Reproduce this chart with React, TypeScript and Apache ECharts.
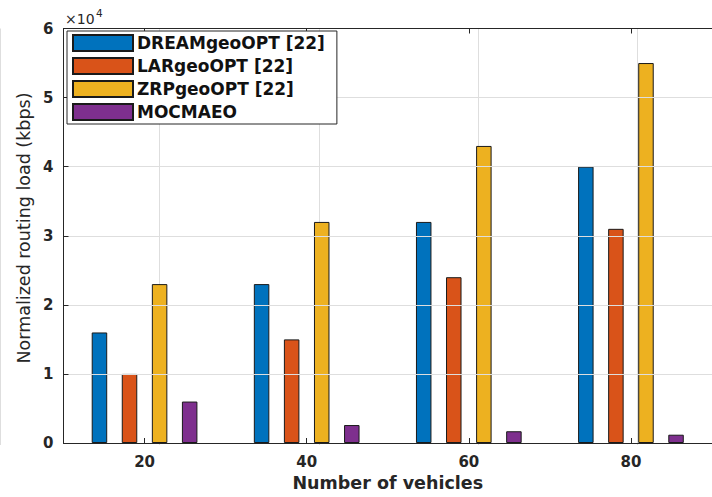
import React, { useEffect, useRef } from "react";
import * as echarts from "echarts";

// Number of vehicles (x categories)
const vehicleCounts = ["20", "40", "60", "80"];

// Normalized routing load (kbps) per protocol
const dreamGeoOpt = [16000, 23000, 32000, 40000];
const larGeoOpt = [10000, 15000, 24000, 31000];
const zrpGeoOpt = [23000, 32000, 43000, 55000];
const mocmaeo = [6000, 2600, 1700, 1200];

const seriesNames = ["DREAMgeoOPT [22]", "LARgeoOPT [22]", "ZRPgeoOPT [22]", "MOCMAEO"];
const seriesData = [dreamGeoOpt, larGeoOpt, zrpGeoOpt, mocmaeo];
const seriesColors = ["#0072BD", "#D95319", "#EDB120", "#7E2F8E"];

// y axis in units of 10^4
const yScale = 10000;
const yMax = 60000;
const yStep = 10000;

const FONT = "DejaVu Sans";
const INK = "#262626";
const GRID = "#dedede";

// plot box
const PLOT_LEFT = 63.5;
const PLOT_WIDTH = 656;
const PLOT_TOP = 28.5;
const PLOT_BOTTOM = 52;
const CHART_W = 712;
const BAND = PLOT_WIDTH / vehicleCounts.length;

export default function App() {
  const ref = useRef<HTMLDivElement>(null);

  useEffect(() => {
    if (!ref.current) return;
    const chart = echarts.init(ref.current, undefined, { renderer: "svg" });

    const option = {
      animation: false,
      backgroundColor: "#ffffff",
      textStyle: { fontFamily: FONT },
      grid: [
        {
          left: PLOT_LEFT,
          top: PLOT_TOP,
          right: CHART_W - PLOT_LEFT - PLOT_WIDTH,
          bottom: PLOT_BOTTOM,
        },
        {
          // same box shifted by half a band: its band edges fall on the vehicle counts
          left: PLOT_LEFT - BAND / 2,
          top: PLOT_TOP,
          right: CHART_W - PLOT_LEFT - PLOT_WIDTH + BAND / 2,
          bottom: PLOT_BOTTOM,
        },
      ],
      legend: {
        data: seriesNames,
        orient: "vertical",
        left: 67,
        top: 31,
        icon: "rect",
        itemWidth: 60,
        itemHeight: 16,
        itemGap: 5,
        padding: [3, 12, 3, 5],
        backgroundColor: "#ffffff",
        borderColor: INK,
        borderWidth: 1,
        borderRadius: 0,
        selectedMode: false,
        z: 10,
        textStyle: {
          fontFamily: FONT,
          fontWeight: "bold",
          fontSize: 17,
          lineHeight: 17,
          color: "#111111",
          padding: [0, 0, 0, -1],
        },
      },
      xAxis: [
        {
          type: "category",
          gridIndex: 0,
          data: vehicleCounts,
          boundaryGap: true,
          name: "Number of vehicles",
          nameLocation: "middle",
          nameGap: 31,
          nameTextStyle: {
            fontFamily: FONT,
            fontWeight: "bold",
            fontSize: 17.5,
            color: INK,
          },
          axisLine: { show: true, lineStyle: { color: INK, width: 1 } },
          axisTick: { show: true, inside: true, alignWithLabel: true, length: 5, lineStyle: { color: INK } },
          axisLabel: {
            margin: 11,
            fontFamily: FONT,
            fontWeight: "bold",
            fontSize: 15,
            color: INK,
          },
          splitLine: { show: false },
          z: 5,
        },
        {
          type: "category",
          gridIndex: 0,
          data: vehicleCounts,
          position: "top",
          boundaryGap: true,
          axisLine: { show: true, lineStyle: { color: INK, width: 1 } },
          axisTick: { show: true, inside: true, alignWithLabel: true, length: 5, lineStyle: { color: INK } },
          axisLabel: { show: false },
          splitLine: { show: false },
          z: 5,
        },
        {
          // hidden axis whose split lines are the vertical grid lines
          type: "category",
          gridIndex: 1,
          data: vehicleCounts,
          boundaryGap: true,
          axisLine: { show: false },
          axisTick: { show: false },
          axisLabel: { show: false },
          splitLine: { show: true, interval: 0, lineStyle: { color: GRID, width: 1 } },
          z: 0,
        },
      ],
      yAxis: [
        {
          type: "value",
          gridIndex: 0,
          min: 0,
          max: yMax,
          interval: yStep,
          axisLine: { show: true, lineStyle: { color: INK, width: 1 } },
          axisTick: { show: true, inside: true, length: 5, lineStyle: { color: INK } },
          axisLabel: {
            margin: 10,
            fontFamily: FONT,
            fontWeight: "bold",
            fontSize: 15,
            color: INK,
            formatter: (v: number) => String(v / yScale),
          },
          splitLine: { show: true, lineStyle: { color: GRID, width: 1 } },
          z: 5,
        },
        {
          type: "value",
          gridIndex: 1,
          min: 0,
          max: yMax,
          show: false,
        },
      ],
      series: seriesNames.map((name, i) => ({
        name,
        type: "bar",
        xAxisIndex: 0,
        yAxisIndex: 0,
        data: seriesData[i],
        barWidth: 15.5,
        barGap: "94%",
        z: 3,
        itemStyle: {
          color: seriesColors[i],
          borderColor: "#1a1a1a",
          borderWidth: 1,
        },
      })),
      graphic: [
        {
          type: "text",
          x: 24,
          y: 228,
          rotation: Math.PI / 2,
          style: {
            text: "Normalized routing load (kbps)",
            fontFamily: FONT,
            fontSize: 17.5,
            fill: INK,
            textAlign: "center",
            textVerticalAlign: "middle",
          },
        },
        {
          type: "text",
          x: 65,
          y: 19,
          style: {
            text: "×10",
            fontFamily: FONT,
            fontSize: 14,
            fill: INK,
            textAlign: "left",
            textVerticalAlign: "middle",
          },
        },
        {
          type: "text",
          x: 96,
          y: 13,
          style: {
            text: "4",
            fontFamily: FONT,
            fontSize: 10.5,
            fill: INK,
            textAlign: "left",
            textVerticalAlign: "middle",
          },
        },
      ],
    };

    chart.setOption(option as any);
    return () => chart.dispose();
  }, []);

  return (
    <div
      ref={ref}
      style={{ position: "absolute", left: 0, top: 0, width: 712, height: 497, background: "#ffffff" }}
    />
  );
}
